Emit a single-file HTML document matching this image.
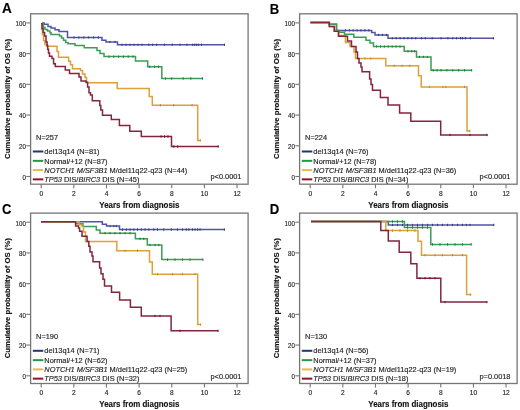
<!DOCTYPE html>
<html><head><meta charset="utf-8"><title>Kaplan-Meier OS</title>
<style>html,body{margin:0;padding:0;background:#fff;} body{width:520px;height:410px;overflow:hidden;font-family:"Liberation Sans",sans-serif;} svg{display:block;filter:blur(0.35px);} text{stroke:#1a1a1a;stroke-width:0.15px;paint-order:stroke;}</style>
</head><body>
<svg width="520" height="410" viewBox="0 0 520 410" font-family="Liberation Sans, sans-serif">
<g transform="translate(0,0)">
<text transform="translate(1.90,13.35) scale(0.94,1)" font-size="14.5" font-weight="bold" fill="#000">A</text>
<rect x="30.6" y="13.8" width="217.5" height="170.4" fill="none" stroke="#767676" stroke-width="1.3"/>
<line x1="26.3" y1="176.50" x2="30.6" y2="176.50" stroke="#767676" stroke-width="1.1"/>
<text transform="translate(25.80,179.80) scale(0.83,1)" font-size="7.4" text-anchor="end" fill="#222">0</text>
<line x1="26.3" y1="145.78" x2="30.6" y2="145.78" stroke="#767676" stroke-width="1.1"/>
<text transform="translate(25.80,149.08) scale(0.83,1)" font-size="7.4" text-anchor="end" fill="#222">20</text>
<line x1="26.3" y1="115.06" x2="30.6" y2="115.06" stroke="#767676" stroke-width="1.1"/>
<text transform="translate(25.80,118.36) scale(0.83,1)" font-size="7.4" text-anchor="end" fill="#222">40</text>
<line x1="26.3" y1="84.34" x2="30.6" y2="84.34" stroke="#767676" stroke-width="1.1"/>
<text transform="translate(25.80,87.64) scale(0.83,1)" font-size="7.4" text-anchor="end" fill="#222">60</text>
<line x1="26.3" y1="53.62" x2="30.6" y2="53.62" stroke="#767676" stroke-width="1.1"/>
<text transform="translate(25.80,56.92) scale(0.83,1)" font-size="7.4" text-anchor="end" fill="#222">80</text>
<line x1="26.3" y1="22.90" x2="30.6" y2="22.90" stroke="#767676" stroke-width="1.1"/>
<text transform="translate(25.80,26.20) scale(0.83,1)" font-size="7.4" text-anchor="end" fill="#222">100</text>
<line x1="41.20" y1="184.2" x2="41.20" y2="188.3" stroke="#767676" stroke-width="1.1"/>
<text transform="translate(41.20,195.90) scale(0.9,1)" font-size="7.3" text-anchor="middle" fill="#222">0</text>
<line x1="73.84" y1="184.2" x2="73.84" y2="188.3" stroke="#767676" stroke-width="1.1"/>
<text transform="translate(73.84,195.90) scale(0.9,1)" font-size="7.3" text-anchor="middle" fill="#222">2</text>
<line x1="106.48" y1="184.2" x2="106.48" y2="188.3" stroke="#767676" stroke-width="1.1"/>
<text transform="translate(106.48,195.90) scale(0.9,1)" font-size="7.3" text-anchor="middle" fill="#222">4</text>
<line x1="139.12" y1="184.2" x2="139.12" y2="188.3" stroke="#767676" stroke-width="1.1"/>
<text transform="translate(139.12,195.90) scale(0.9,1)" font-size="7.3" text-anchor="middle" fill="#222">6</text>
<line x1="171.76" y1="184.2" x2="171.76" y2="188.3" stroke="#767676" stroke-width="1.1"/>
<text transform="translate(171.76,195.90) scale(0.9,1)" font-size="7.3" text-anchor="middle" fill="#222">8</text>
<line x1="204.40" y1="184.2" x2="204.40" y2="188.3" stroke="#767676" stroke-width="1.1"/>
<text transform="translate(204.40,195.90) scale(0.9,1)" font-size="7.3" text-anchor="middle" fill="#222">10</text>
<line x1="237.04" y1="184.2" x2="237.04" y2="188.3" stroke="#767676" stroke-width="1.1"/>
<text transform="translate(237.04,195.90) scale(0.9,1)" font-size="7.3" text-anchor="middle" fill="#222">12</text>
<text transform="translate(139.40,208.10) scale(0.955,1)" font-size="8.3" text-anchor="middle" font-weight="bold" fill="#111">Years from diagnosis</text>
<text transform="translate(9.9,98.9) rotate(-90) scale(0.954,1)" font-size="8.1" font-weight="bold" text-anchor="middle" fill="#111">Cumulative probability of OS (%)</text>
<text x="36.1" y="140.4" font-size="7.4" fill="#222">N=257</text>
<line x1="32.8" y1="151.5" x2="43.3" y2="151.5" stroke="#27356f" stroke-width="2"/>
<text x="44.3" y="154.2" font-size="7.4" fill="#222">del13q14 (N=81)</text>
<line x1="32.8" y1="160.85" x2="43.3" y2="160.85" stroke="#1f9a45" stroke-width="2"/>
<text x="44.3" y="163.5" font-size="7.4" fill="#222">Normal/+12 (N=87)</text>
<line x1="32.8" y1="170.1" x2="43.3" y2="170.1" stroke="#e6bb48" stroke-width="2"/>
<text x="44.3" y="172.8" font-size="7.4" fill="#222"><tspan font-style="italic">NOTCH1 M/SF3B1</tspan> M/del11q22-q23 (N=44)</text>
<line x1="32.8" y1="179.35" x2="43.3" y2="179.35" stroke="#8c1628" stroke-width="2"/>
<text x="44.3" y="182.0" font-size="7.4" fill="#222"><tspan font-style="italic">TP53</tspan> DIS/<tspan font-style="italic">BIRC3</tspan> DIS (N=45)</text>
<text x="241.5" y="179.4" font-size="7.4" text-anchor="end" fill="#222">p&lt;0.0001</text>
</g>
<path d="M42,23 H44 V24.3 H48 V26.5 H51 V28 H55 V29.7 H59 V31.5 H67.5 V37.5 H102 V40.2 H106 V41.9 H117.5 V44.8 H225" fill="none" stroke="#5054a4" stroke-width="1.5" stroke-linejoin="miter" stroke-linecap="butt"/>
<path d="M42,23 V25 H43.5 V27.5 H45 V29.5 H47.5 V31 H50 V32.8 H51 V34.5 H59.5 V36.1 H61.5 V38 H63.5 V40.3 H65.7 V42.6 H68 V43.7 H75 V45.4 H84.2 V47.7 H97 V50.5 H100 V53.5 H104 V56.6 H135.5 V60.9 H147.7 V66.7 H161.8 V78.5 H203" fill="none" stroke="#3a9e56" stroke-width="1.5" stroke-linejoin="miter" stroke-linecap="butt"/>
<path d="M42,23 V29 H42.5 V34.6 H43.5 V40.5 H45 V44.5 H46.5 V46.3 H57 V51.5 H58.5 V57.3 H68.6 V61.3 H70.5 V64.8 H72.5 V68.8 H80.5 V70.5 H82.5 V74 H85 V77.5 H86.5 V82.8 H117.2 V88.6 H149.2 V96.6 H152.3 V105.3 H197.7 V140.4 H200.5" fill="none" stroke="#dda03a" stroke-width="1.5" stroke-linejoin="miter" stroke-linecap="butt"/>
<path d="M42,23 V28.8 H43.1 V32.4 H44.6 V36.1 H46 V42 H47.1 V45.6 H47.7 V49.3 H48.5 V53 H49.5 V56.2 H52 V58.5 H53.6 V63.7 H55.3 V66.5 H65.3 V70 H69.5 V73.5 H79 V77 H81 V81 H86 V82.3 H87.6 V86.9 H89 V92.7 H90.5 V95 H92.3 V100.8 H99.8 V105.4 H100.8 V110 H102.5 V115.2 H111.3 V119.5 H119.4 V125.6 H129.8 V131.3 H141.3 V136.5 H171.5 V146.5 H218.5" fill="none" stroke="#82263f" stroke-width="1.5" stroke-linejoin="miter" stroke-linecap="butt"/>
<path d="M74.0,36.4V38.6M78.9,36.4V38.6M83.8,36.4V38.6M88.7,36.4V38.6M93.6,36.4V38.6M98.5,36.4V38.6M110.0,40.8V43.0M115.0,40.8V43.0M122.0,43.6V45.9M126.0,43.6V45.9M130.0,43.6V45.9M134.0,43.6V45.9M138.0,43.6V45.9M142.0,43.6V45.9M148.8,43.6V45.9M152.7,43.6V45.9M156.6,43.6V45.9M164.4,43.6V45.9M172.2,43.6V45.9M180.0,43.6V45.9M186.9,43.6V45.9M192.7,43.6V45.9M194.7,43.6V45.9M196.6,43.6V45.9M198.6,43.6V45.9M201.5,43.6V45.9M224.5,43.6V45.9" stroke="#373b80" stroke-width="1" fill="none"/>
<path d="M109.0,55.5V57.8M113.8,55.5V57.8M118.6,55.5V57.8M123.4,55.5V57.8M128.2,55.5V57.8M133.0,55.5V57.8M149.8,65.5V67.9M154.6,65.5V67.9M158.6,65.5V67.9M165.4,77.3V79.7M171.6,77.3V79.7M183.2,77.3V79.7M190.8,77.3V79.7M202.5,77.3V79.7" stroke="#217a38" stroke-width="1" fill="none"/>
<path d="M160.4,104.1V106.5M173.8,104.1V106.5M192.1,104.1V106.5M200.3,139.2V141.6" stroke="#c08a2a" stroke-width="1" fill="none"/>
<path d="M161.0,135.3V137.7M164.5,135.3V137.7M168.0,135.3V137.7M173.8,145.3V147.7M177.7,145.3V147.7M218.2,145.3V147.7" stroke="#6a1428" stroke-width="1" fill="none"/>
<g transform="translate(269.0,0)">
<text transform="translate(0.75,13.70) scale(0.905,1)" font-size="14.5" font-weight="bold" fill="#000">B</text>
<rect x="30.6" y="13.8" width="217.5" height="170.4" fill="none" stroke="#767676" stroke-width="1.3"/>
<line x1="26.3" y1="176.50" x2="30.6" y2="176.50" stroke="#767676" stroke-width="1.1"/>
<text transform="translate(25.80,179.80) scale(0.83,1)" font-size="7.4" text-anchor="end" fill="#222">0</text>
<line x1="26.3" y1="145.78" x2="30.6" y2="145.78" stroke="#767676" stroke-width="1.1"/>
<text transform="translate(25.80,149.08) scale(0.83,1)" font-size="7.4" text-anchor="end" fill="#222">20</text>
<line x1="26.3" y1="115.06" x2="30.6" y2="115.06" stroke="#767676" stroke-width="1.1"/>
<text transform="translate(25.80,118.36) scale(0.83,1)" font-size="7.4" text-anchor="end" fill="#222">40</text>
<line x1="26.3" y1="84.34" x2="30.6" y2="84.34" stroke="#767676" stroke-width="1.1"/>
<text transform="translate(25.80,87.64) scale(0.83,1)" font-size="7.4" text-anchor="end" fill="#222">60</text>
<line x1="26.3" y1="53.62" x2="30.6" y2="53.62" stroke="#767676" stroke-width="1.1"/>
<text transform="translate(25.80,56.92) scale(0.83,1)" font-size="7.4" text-anchor="end" fill="#222">80</text>
<line x1="26.3" y1="22.90" x2="30.6" y2="22.90" stroke="#767676" stroke-width="1.1"/>
<text transform="translate(25.80,26.20) scale(0.83,1)" font-size="7.4" text-anchor="end" fill="#222">100</text>
<line x1="41.20" y1="184.2" x2="41.20" y2="188.3" stroke="#767676" stroke-width="1.1"/>
<text transform="translate(41.20,195.90) scale(0.9,1)" font-size="7.3" text-anchor="middle" fill="#222">0</text>
<line x1="73.84" y1="184.2" x2="73.84" y2="188.3" stroke="#767676" stroke-width="1.1"/>
<text transform="translate(73.84,195.90) scale(0.9,1)" font-size="7.3" text-anchor="middle" fill="#222">2</text>
<line x1="106.48" y1="184.2" x2="106.48" y2="188.3" stroke="#767676" stroke-width="1.1"/>
<text transform="translate(106.48,195.90) scale(0.9,1)" font-size="7.3" text-anchor="middle" fill="#222">4</text>
<line x1="139.12" y1="184.2" x2="139.12" y2="188.3" stroke="#767676" stroke-width="1.1"/>
<text transform="translate(139.12,195.90) scale(0.9,1)" font-size="7.3" text-anchor="middle" fill="#222">6</text>
<line x1="171.76" y1="184.2" x2="171.76" y2="188.3" stroke="#767676" stroke-width="1.1"/>
<text transform="translate(171.76,195.90) scale(0.9,1)" font-size="7.3" text-anchor="middle" fill="#222">8</text>
<line x1="204.40" y1="184.2" x2="204.40" y2="188.3" stroke="#767676" stroke-width="1.1"/>
<text transform="translate(204.40,195.90) scale(0.9,1)" font-size="7.3" text-anchor="middle" fill="#222">10</text>
<line x1="237.04" y1="184.2" x2="237.04" y2="188.3" stroke="#767676" stroke-width="1.1"/>
<text transform="translate(237.04,195.90) scale(0.9,1)" font-size="7.3" text-anchor="middle" fill="#222">12</text>
<text transform="translate(139.40,208.10) scale(0.955,1)" font-size="8.3" text-anchor="middle" font-weight="bold" fill="#111">Years from diagnosis</text>
<text transform="translate(9.9,98.9) rotate(-90) scale(0.954,1)" font-size="8.1" font-weight="bold" text-anchor="middle" fill="#111">Cumulative probability of OS (%)</text>
<text x="36.1" y="140.4" font-size="7.4" fill="#222">N=224</text>
<line x1="32.8" y1="151.5" x2="43.3" y2="151.5" stroke="#27356f" stroke-width="2"/>
<text x="44.3" y="154.2" font-size="7.4" fill="#222">del13q14 (N=76)</text>
<line x1="32.8" y1="160.85" x2="43.3" y2="160.85" stroke="#1f9a45" stroke-width="2"/>
<text x="44.3" y="163.5" font-size="7.4" fill="#222">Normal/+12 (N=78)</text>
<line x1="32.8" y1="170.1" x2="43.3" y2="170.1" stroke="#e6bb48" stroke-width="2"/>
<text x="44.3" y="172.8" font-size="7.4" fill="#222"><tspan font-style="italic">NOTCH1 M/SF3B1</tspan> M/del11q22-q23 (N=36)</text>
<line x1="32.8" y1="179.35" x2="43.3" y2="179.35" stroke="#8c1628" stroke-width="2"/>
<text x="44.3" y="182.0" font-size="7.4" fill="#222"><tspan font-style="italic">TP53</tspan> DIS/<tspan font-style="italic">BIRC3</tspan> DIS (N=34)</text>
<text x="241.5" y="179.4" font-size="7.4" text-anchor="end" fill="#222">p&lt;0.0001</text>
</g>
<path d="M310.4,22.4 H329.3 V24.2 H336.5 V30.4 H371.6 V32.6 H375 V34.9 H388 V38.2 H493.7" fill="none" stroke="#5054a4" stroke-width="1.5" stroke-linejoin="miter" stroke-linecap="butt"/>
<path d="M310.4,22.4 H329.3 V24.2 H336.5 V30.5 H339.5 V32.2 H344.5 V34.3 H353.8 V37.2 H366 V40.2 H370 V43 H373.5 V46.5 H404.2 V51.2 H416.5 V56.9 H431 V70.3 H472" fill="none" stroke="#3a9e56" stroke-width="1.5" stroke-linejoin="miter" stroke-linecap="butt"/>
<path d="M310.4,22.4 H329.3 V26.5 H334.3 V31.3 H338.5 V35.5 H345.4 V42.4 H350 V46.5 H354 V52 H355.5 V58.5 H385.8 V65.8 H418.5 V75.8 H421.2 V86.9 H467 V131 H470" fill="none" stroke="#dda03a" stroke-width="1.5" stroke-linejoin="miter" stroke-linecap="butt"/>
<path d="M310.4,22.4 H329.3 V26.5 H334.3 V31.3 H338.5 V36.2 H347.5 V41.1 H351.5 V46.5 H356 V52 H357.5 V58.5 H359 V63.1 H361 V67 H362 V71.8 H369.6 V79 H371 V84.6 H372.5 V90.3 H380.4 V97.4 H388 V105 H399.6 V112.9 H410.8 V121.2 H440.7 V134.9 H487.3" fill="none" stroke="#82263f" stroke-width="1.5" stroke-linejoin="miter" stroke-linecap="butt"/>
<path d="M345.4,29.2V31.5M349.3,29.2V31.5M353.2,29.2V31.5M357.1,29.2V31.5M361.0,29.2V31.5M364.9,29.2V31.5M368.8,29.2V31.5M378.6,33.8V36.0M382.5,33.8V36.0M386.4,33.8V36.0M392.3,37.1V39.4M396.2,37.1V39.4M400.1,37.1V39.4M404.0,37.1V39.4M407.9,37.1V39.4M411.8,37.1V39.4M415.7,37.1V39.4M421.5,37.1V39.4M425.4,37.1V39.4M432.2,37.1V39.4M441.0,37.1V39.4M447.9,37.1V39.4M452.7,37.1V39.4M456.6,37.1V39.4M460.5,37.1V39.4M462.5,37.1V39.4M465.4,37.1V39.4M470.3,37.1V39.4M493.5,37.1V39.4" stroke="#373b80" stroke-width="1" fill="none"/>
<path d="M376.6,45.4V47.6M380.5,45.4V47.6M384.4,45.4V47.6M388.3,45.4V47.6M392.2,45.4V47.6M396.1,45.4V47.6M400.0,45.4V47.6M408.0,50.1V52.4M411.7,50.1V52.4M414.6,50.1V52.4M419.5,55.8V58.0M423.4,55.8V58.0M427.3,55.8V58.0M433.2,69.1V71.5M437.1,69.1V71.5M441.0,69.1V71.5M446.9,69.1V71.5M452.7,69.1V71.5M458.6,69.1V71.5M464.5,69.1V71.5M471.7,69.1V71.5" stroke="#217a38" stroke-width="1" fill="none"/>
<path d="M365.0,57.4V59.6M370.8,57.4V59.6M394.2,64.6V67.0M402.0,64.6V67.0M409.8,64.6V67.0M429.3,85.8V88.1M443.0,85.8V88.1M445.9,85.8V88.1M464.5,85.8V88.1M469.8,129.8V132.2" stroke="#c08a2a" stroke-width="1" fill="none"/>
<path d="M450.0,133.8V136.1M470.0,133.8V136.1M487.1,133.8V136.1" stroke="#6a1428" stroke-width="1" fill="none"/>
<g transform="translate(0,199.3)">
<text transform="translate(1.95,14.50) scale(0.905,1)" font-size="14.5" font-weight="bold" fill="#000">C</text>
<rect x="30.6" y="13.8" width="217.5" height="170.4" fill="none" stroke="#767676" stroke-width="1.3"/>
<line x1="26.3" y1="176.50" x2="30.6" y2="176.50" stroke="#767676" stroke-width="1.1"/>
<text transform="translate(25.80,179.80) scale(0.83,1)" font-size="7.4" text-anchor="end" fill="#222">0</text>
<line x1="26.3" y1="145.78" x2="30.6" y2="145.78" stroke="#767676" stroke-width="1.1"/>
<text transform="translate(25.80,149.08) scale(0.83,1)" font-size="7.4" text-anchor="end" fill="#222">20</text>
<line x1="26.3" y1="115.06" x2="30.6" y2="115.06" stroke="#767676" stroke-width="1.1"/>
<text transform="translate(25.80,118.36) scale(0.83,1)" font-size="7.4" text-anchor="end" fill="#222">40</text>
<line x1="26.3" y1="84.34" x2="30.6" y2="84.34" stroke="#767676" stroke-width="1.1"/>
<text transform="translate(25.80,87.64) scale(0.83,1)" font-size="7.4" text-anchor="end" fill="#222">60</text>
<line x1="26.3" y1="53.62" x2="30.6" y2="53.62" stroke="#767676" stroke-width="1.1"/>
<text transform="translate(25.80,56.92) scale(0.83,1)" font-size="7.4" text-anchor="end" fill="#222">80</text>
<line x1="26.3" y1="22.90" x2="30.6" y2="22.90" stroke="#767676" stroke-width="1.1"/>
<text transform="translate(25.80,26.20) scale(0.83,1)" font-size="7.4" text-anchor="end" fill="#222">100</text>
<line x1="41.20" y1="184.2" x2="41.20" y2="188.3" stroke="#767676" stroke-width="1.1"/>
<text transform="translate(41.20,195.90) scale(0.9,1)" font-size="7.3" text-anchor="middle" fill="#222">0</text>
<line x1="73.84" y1="184.2" x2="73.84" y2="188.3" stroke="#767676" stroke-width="1.1"/>
<text transform="translate(73.84,195.90) scale(0.9,1)" font-size="7.3" text-anchor="middle" fill="#222">2</text>
<line x1="106.48" y1="184.2" x2="106.48" y2="188.3" stroke="#767676" stroke-width="1.1"/>
<text transform="translate(106.48,195.90) scale(0.9,1)" font-size="7.3" text-anchor="middle" fill="#222">4</text>
<line x1="139.12" y1="184.2" x2="139.12" y2="188.3" stroke="#767676" stroke-width="1.1"/>
<text transform="translate(139.12,195.90) scale(0.9,1)" font-size="7.3" text-anchor="middle" fill="#222">6</text>
<line x1="171.76" y1="184.2" x2="171.76" y2="188.3" stroke="#767676" stroke-width="1.1"/>
<text transform="translate(171.76,195.90) scale(0.9,1)" font-size="7.3" text-anchor="middle" fill="#222">8</text>
<line x1="204.40" y1="184.2" x2="204.40" y2="188.3" stroke="#767676" stroke-width="1.1"/>
<text transform="translate(204.40,195.90) scale(0.9,1)" font-size="7.3" text-anchor="middle" fill="#222">10</text>
<line x1="237.04" y1="184.2" x2="237.04" y2="188.3" stroke="#767676" stroke-width="1.1"/>
<text transform="translate(237.04,195.90) scale(0.9,1)" font-size="7.3" text-anchor="middle" fill="#222">12</text>
<text transform="translate(139.40,208.10) scale(0.955,1)" font-size="8.3" text-anchor="middle" font-weight="bold" fill="#111">Years from diagnosis</text>
<text transform="translate(9.9,98.9) rotate(-90) scale(0.954,1)" font-size="8.1" font-weight="bold" text-anchor="middle" fill="#111">Cumulative probability of OS (%)</text>
<text x="36.1" y="139.6" font-size="7.4" fill="#222">N=190</text>
<line x1="32.8" y1="151.5" x2="43.3" y2="151.5" stroke="#27356f" stroke-width="2"/>
<text x="44.3" y="154.2" font-size="7.4" fill="#222">del13q14 (N=71)</text>
<line x1="32.8" y1="160.85" x2="43.3" y2="160.85" stroke="#1f9a45" stroke-width="2"/>
<text x="44.3" y="163.5" font-size="7.4" fill="#222">Normal/+12 (N=62)</text>
<line x1="32.8" y1="170.1" x2="43.3" y2="170.1" stroke="#e6bb48" stroke-width="2"/>
<text x="44.3" y="172.8" font-size="7.4" fill="#222"><tspan font-style="italic">NOTCH1 M/SF3B1</tspan> M/del11q22-q23 (N=25)</text>
<line x1="32.8" y1="179.35" x2="43.3" y2="179.35" stroke="#8c1628" stroke-width="2"/>
<text x="44.3" y="182.0" font-size="7.4" fill="#222"><tspan font-style="italic">TP53</tspan> DIS/<tspan font-style="italic">BIRC3</tspan> DIS (N=32)</text>
<text x="241.5" y="179.4" font-size="7.4" text-anchor="end" fill="#222">p&lt;0.0001</text>
</g>
<path d="M41,221.8 H102.3 V224.2 H106.5 V226.1 H119.5 V229.6 H224.6" fill="none" stroke="#5054a4" stroke-width="1.5" stroke-linejoin="miter" stroke-linecap="butt"/>
<path d="M41,221.8 H75.6 V223.7 H83 V226.5 H96.3 V230 H100 V233.2 H135.4 V238.8 H147.3 V245 H161.8 V259.6 H203.1" fill="none" stroke="#3a9e56" stroke-width="1.5" stroke-linejoin="miter" stroke-linecap="butt"/>
<path d="M41,221.8 H79 V224.5 H81.5 V226 H83.5 V232 H85.5 V241.5 H116.8 V250.7 H149.5 V262 H152.3 V274.2 H197.7 V324.6 H200.8" fill="none" stroke="#dda03a" stroke-width="1.5" stroke-linejoin="miter" stroke-linecap="butt"/>
<path d="M41,221.8 H75.6 V226 H78.5 V228 H79.6 V231.2 H82 V236.3 H87.1 V241.5 H88.8 V246.2 H90 V252 H92 V256 H93 V261.7 H99.6 V268 H101 V273.8 H103 V279.2 H104.5 V286 H111.5 V292.3 H119.6 V300 H130.4 V307.2 H141.3 V315.9 H171.1 V330.8 H218.2" fill="none" stroke="#82263f" stroke-width="1.5" stroke-linejoin="miter" stroke-linecap="butt"/>
<path d="M110.0,224.9V227.2M113.8,224.9V227.2M116.3,224.9V227.2M122.5,228.4V230.8M126.3,228.4V230.8M130.0,228.4V230.8M133.8,228.4V230.8M137.5,228.4V230.8M141.3,228.4V230.8M145.0,228.4V230.8M148.8,228.4V230.8M153.8,228.4V230.8M157.5,228.4V230.8M163.8,228.4V230.8M171.3,228.4V230.8M177.5,228.4V230.8M182.5,228.4V230.8M186.3,228.4V230.8M188.8,228.4V230.8M192.5,228.4V230.8M195.0,228.4V230.8M197.5,228.4V230.8M200.0,228.4V230.8M224.4,228.4V230.8" stroke="#373b80" stroke-width="1" fill="none"/>
<path d="M105.0,232.0V234.3M110.0,232.0V234.3M115.0,232.0V234.3M120.0,232.0V234.3M125.0,232.0V234.3M130.0,232.0V234.3M140.0,237.7V240.0M143.8,237.7V240.0M150.0,243.8V246.2M155.0,243.8V246.2M158.8,243.8V246.2M167.5,258.5V260.8M175.0,258.5V260.8M182.5,258.5V260.8M190.0,258.5V260.8M202.9,258.5V260.8" stroke="#217a38" stroke-width="1" fill="none"/>
<path d="M125.0,249.5V251.8M137.5,249.5V251.8M157.5,273.1V275.3M172.5,273.1V275.3M182.5,273.1V275.3M195.0,273.1V275.3M200.6,323.5V325.8" stroke="#c08a2a" stroke-width="1" fill="none"/>
<path d="M155.0,314.8V317.0M160.0,314.8V317.0M180.0,329.7V331.9M218.0,329.7V331.9" stroke="#6a1428" stroke-width="1" fill="none"/>
<g transform="translate(269.0,199.3)">
<text transform="translate(0.75,14.60) scale(0.905,1)" font-size="14.5" font-weight="bold" fill="#000">D</text>
<rect x="30.6" y="13.8" width="217.5" height="170.4" fill="none" stroke="#767676" stroke-width="1.3"/>
<line x1="26.3" y1="176.50" x2="30.6" y2="176.50" stroke="#767676" stroke-width="1.1"/>
<text transform="translate(25.80,179.80) scale(0.83,1)" font-size="7.4" text-anchor="end" fill="#222">0</text>
<line x1="26.3" y1="145.78" x2="30.6" y2="145.78" stroke="#767676" stroke-width="1.1"/>
<text transform="translate(25.80,149.08) scale(0.83,1)" font-size="7.4" text-anchor="end" fill="#222">20</text>
<line x1="26.3" y1="115.06" x2="30.6" y2="115.06" stroke="#767676" stroke-width="1.1"/>
<text transform="translate(25.80,118.36) scale(0.83,1)" font-size="7.4" text-anchor="end" fill="#222">40</text>
<line x1="26.3" y1="84.34" x2="30.6" y2="84.34" stroke="#767676" stroke-width="1.1"/>
<text transform="translate(25.80,87.64) scale(0.83,1)" font-size="7.4" text-anchor="end" fill="#222">60</text>
<line x1="26.3" y1="53.62" x2="30.6" y2="53.62" stroke="#767676" stroke-width="1.1"/>
<text transform="translate(25.80,56.92) scale(0.83,1)" font-size="7.4" text-anchor="end" fill="#222">80</text>
<line x1="26.3" y1="22.90" x2="30.6" y2="22.90" stroke="#767676" stroke-width="1.1"/>
<text transform="translate(25.80,26.20) scale(0.83,1)" font-size="7.4" text-anchor="end" fill="#222">100</text>
<line x1="41.20" y1="184.2" x2="41.20" y2="188.3" stroke="#767676" stroke-width="1.1"/>
<text transform="translate(41.20,195.90) scale(0.9,1)" font-size="7.3" text-anchor="middle" fill="#222">0</text>
<line x1="73.84" y1="184.2" x2="73.84" y2="188.3" stroke="#767676" stroke-width="1.1"/>
<text transform="translate(73.84,195.90) scale(0.9,1)" font-size="7.3" text-anchor="middle" fill="#222">2</text>
<line x1="106.48" y1="184.2" x2="106.48" y2="188.3" stroke="#767676" stroke-width="1.1"/>
<text transform="translate(106.48,195.90) scale(0.9,1)" font-size="7.3" text-anchor="middle" fill="#222">4</text>
<line x1="139.12" y1="184.2" x2="139.12" y2="188.3" stroke="#767676" stroke-width="1.1"/>
<text transform="translate(139.12,195.90) scale(0.9,1)" font-size="7.3" text-anchor="middle" fill="#222">6</text>
<line x1="171.76" y1="184.2" x2="171.76" y2="188.3" stroke="#767676" stroke-width="1.1"/>
<text transform="translate(171.76,195.90) scale(0.9,1)" font-size="7.3" text-anchor="middle" fill="#222">8</text>
<line x1="204.40" y1="184.2" x2="204.40" y2="188.3" stroke="#767676" stroke-width="1.1"/>
<text transform="translate(204.40,195.90) scale(0.9,1)" font-size="7.3" text-anchor="middle" fill="#222">10</text>
<line x1="237.04" y1="184.2" x2="237.04" y2="188.3" stroke="#767676" stroke-width="1.1"/>
<text transform="translate(237.04,195.90) scale(0.9,1)" font-size="7.3" text-anchor="middle" fill="#222">12</text>
<text transform="translate(139.40,208.10) scale(0.955,1)" font-size="8.3" text-anchor="middle" font-weight="bold" fill="#111">Years from diagnosis</text>
<text transform="translate(9.9,98.9) rotate(-90) scale(0.954,1)" font-size="8.1" font-weight="bold" text-anchor="middle" fill="#111">Cumulative probability of OS (%)</text>
<text x="36.1" y="139.6" font-size="7.4" fill="#222">N=130</text>
<line x1="32.8" y1="151.5" x2="43.3" y2="151.5" stroke="#27356f" stroke-width="2"/>
<text x="44.3" y="154.2" font-size="7.4" fill="#222">del13q14 (N=56)</text>
<line x1="32.8" y1="160.85" x2="43.3" y2="160.85" stroke="#1f9a45" stroke-width="2"/>
<text x="44.3" y="163.5" font-size="7.4" fill="#222">Normal/+12 (N=37)</text>
<line x1="32.8" y1="170.1" x2="43.3" y2="170.1" stroke="#e6bb48" stroke-width="2"/>
<text x="44.3" y="172.8" font-size="7.4" fill="#222"><tspan font-style="italic">NOTCH1 M/SF3B1</tspan> M/del11q22-q23 (N=19)</text>
<line x1="32.8" y1="179.35" x2="43.3" y2="179.35" stroke="#8c1628" stroke-width="2"/>
<text x="44.3" y="182.0" font-size="7.4" fill="#222"><tspan font-style="italic">TP53</tspan> DIS/<tspan font-style="italic">BIRC3</tspan> DIS (N=18)</text>
<text x="241.5" y="179.4" font-size="7.4" text-anchor="end" fill="#222">p=0.0018</text>
</g>
<path d="M311,221.6 H388.3 V224.9 H494" fill="none" stroke="#5054a4" stroke-width="1.5" stroke-linejoin="miter" stroke-linecap="butt"/>
<path d="M311,221.6 H404.4 V227.5 H430.8 V244.4 H471.4" fill="none" stroke="#3a9e56" stroke-width="1.5" stroke-linejoin="miter" stroke-linecap="butt"/>
<path d="M311,221.6 H385.8 V230.6 H418 V241.3 H421.5 V255.2 H466.6 V294.6 H470.9" fill="none" stroke="#dda03a" stroke-width="1.5" stroke-linejoin="miter" stroke-linecap="butt"/>
<path d="M311,221.6 H380.8 V230.6 H388.3 V241 H399.2 V252.2 H410.8 V263.8 H416.9 V278.2 H440.8 V302.1 H487" fill="none" stroke="#82263f" stroke-width="1.5" stroke-linejoin="miter" stroke-linecap="butt"/>
<path d="M392.5,223.8V226.1M397.5,223.8V226.1M402.5,223.8V226.1M407.5,223.8V226.1M412.5,223.8V226.1M417.5,223.8V226.1M422.5,223.8V226.1M427.5,223.8V226.1M432.5,223.8V226.1M437.5,223.8V226.1M442.5,223.8V226.1M447.5,223.8V226.1M452.5,223.8V226.1M457.5,223.8V226.1M462.5,223.8V226.1M466.3,223.8V226.1M470.0,223.8V226.1M493.8,223.8V226.1" stroke="#373b80" stroke-width="1" fill="none"/>
<path d="M392.5,220.4V222.8M397.5,220.4V222.8M402.5,220.4V222.8M407.5,226.3V228.7M412.5,226.3V228.7M417.5,226.3V228.7M422.5,226.3V228.7M427.5,226.3V228.7M432.5,243.2V245.6M440.0,243.2V245.6M447.5,243.2V245.6M455.0,243.2V245.6M462.5,243.2V245.6M471.2,243.2V245.6" stroke="#217a38" stroke-width="1" fill="none"/>
<path d="M392.5,229.4V231.8M400.0,229.4V231.8M407.5,229.4V231.8M415.0,229.4V231.8M425.0,254.0V256.3M435.0,254.0V256.3M442.5,254.0V256.3M452.5,254.0V256.3M462.5,254.0V256.3M470.7,293.5V295.8" stroke="#c08a2a" stroke-width="1" fill="none"/>
<path d="M420.0,277.1V279.3M425.0,277.1V279.3M430.0,277.1V279.3M435.0,277.1V279.3M445.0,301.0V303.2M487.0,301.0V303.2" stroke="#6a1428" stroke-width="1" fill="none"/>
</svg>
</body></html>
